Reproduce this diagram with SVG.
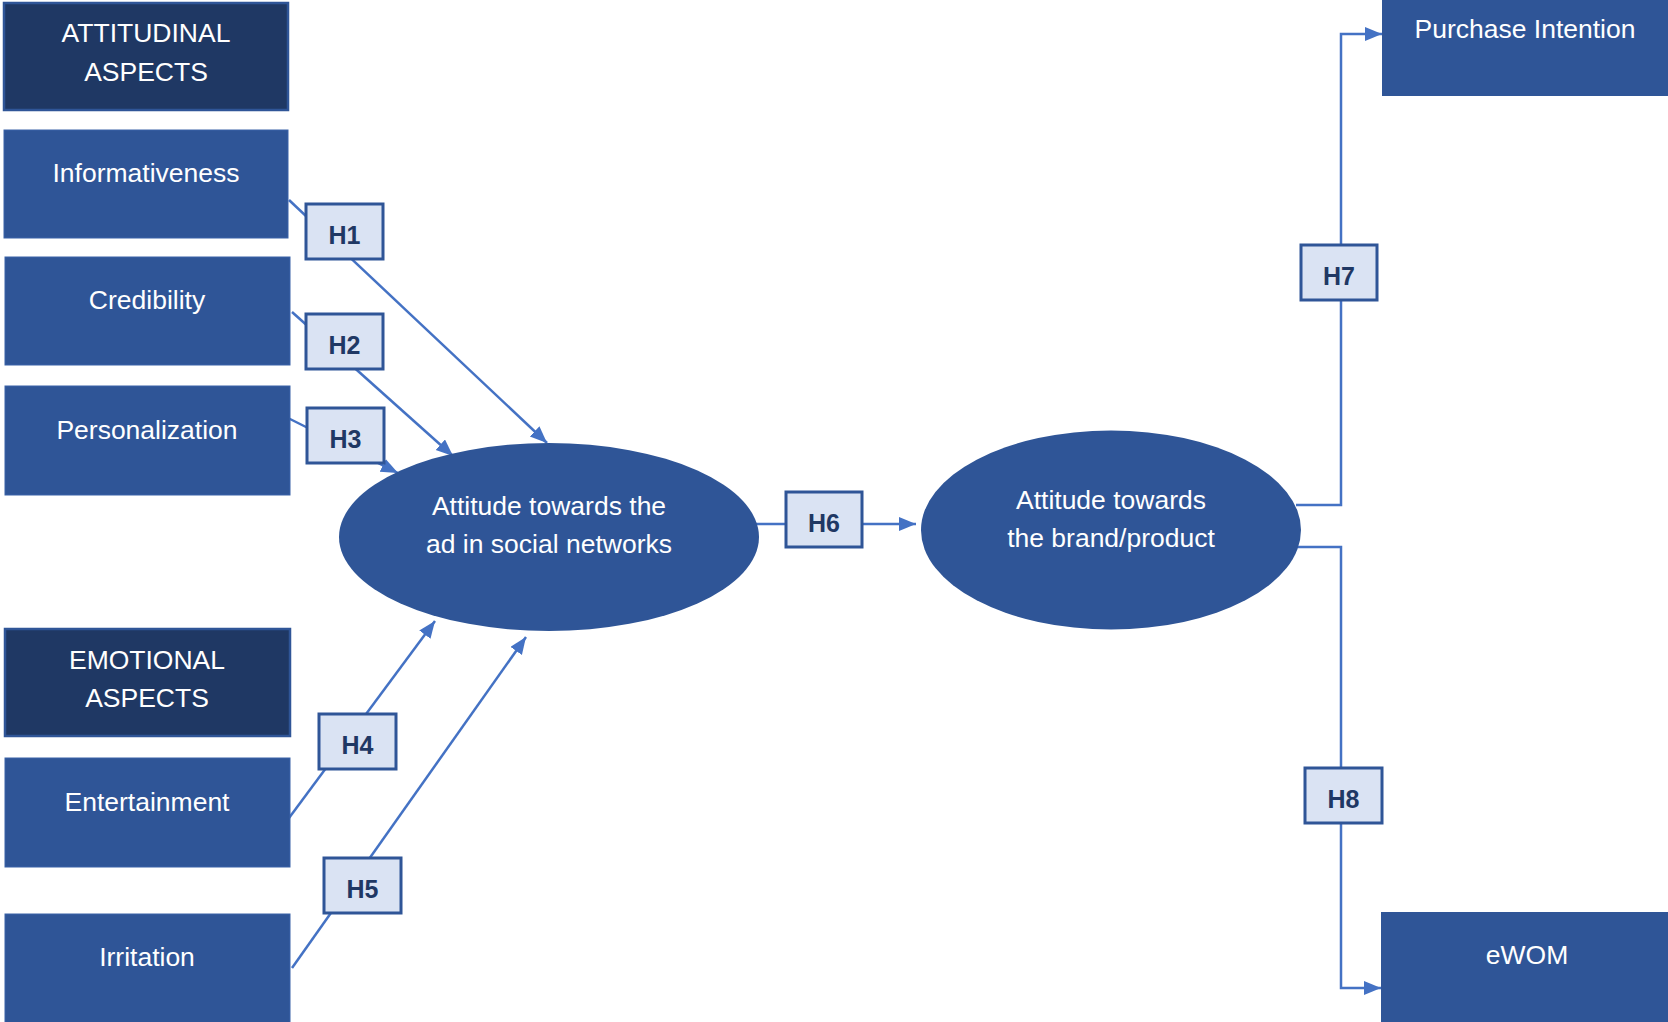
<svg xmlns="http://www.w3.org/2000/svg" width="1668" height="1022" viewBox="0 0 1668 1022">
  <style>
    .box { fill: #2F5597; stroke: #3A63A8; stroke-width: 1; }
    .head { fill: #1F3864; stroke: #2F5597; stroke-width: 2.5; }
    .oval { fill: #2F5597; }
    .txt { font-family: "Liberation Sans", Arial, sans-serif; font-size: 26.5px; fill: #FFFFFF; text-anchor: middle; }
    .hyp rect { fill: #DAE3F3; stroke: #2F5597; stroke-width: 3; }
    .hyp text { font-family: "Liberation Sans", Arial, sans-serif; font-size: 25px; font-weight: bold; fill: #1F3864; text-anchor: middle; }
    .link { fill: none; stroke: #4472C4; stroke-width: 2.5; marker-end: url(#arrow); }
    .plain { fill: none; stroke: #4472C4; stroke-width: 2.5; }
  </style>
  <defs>
    <marker id="arrow" markerUnits="userSpaceOnUse" markerWidth="18" markerHeight="16" refX="17" refY="7" orient="auto">
      <path d="M0,0 L17,7 L0,14 z" fill="#4472C4"/>
    </marker>
  </defs>
  <rect width="1668" height="1022" fill="#FFFFFF"/>

  <!-- connectors -->
  <g id="connectors">
    <line class="link" x1="289" y1="200" x2="547" y2="443"/>
    <line class="link" x1="292" y1="312" x2="453" y2="456"/>
    <line class="link" x1="286" y1="417" x2="398" y2="473"/>
    <line class="link" x1="289" y1="818" x2="435" y2="621"/>
    <line class="link" x1="292" y1="968" x2="526" y2="637"/>
    <line class="link" x1="755" y1="524" x2="916" y2="524"/>
    <polyline class="link" points="1296,505 1341,505 1341,34 1382,34"/>
    <polyline class="link" points="1296,547 1341,547 1341,988 1381,988"/>
  </g>

  <!-- left column -->
  <g id="attitudinal-aspects">
    <rect class="head" x="4" y="3" width="284" height="107"/>
    <text class="txt" x="146" y="42">ATTITUDINAL</text>
    <text class="txt" x="146" y="81">ASPECTS</text>
  </g>
  <g id="informativeness">
    <rect class="box" x="4" y="130" width="284" height="108"/>
    <text class="txt" x="146" y="182">Informativeness</text>
  </g>
  <g id="credibility">
    <rect class="box" x="5" y="257" width="285" height="108"/>
    <text class="txt" x="147" y="309">Credibility</text>
  </g>
  <g id="personalization">
    <rect class="box" x="5" y="386" width="285" height="109"/>
    <text class="txt" x="147" y="439">Personalization</text>
  </g>
  <g id="emotional-aspects">
    <rect class="head" x="5" y="629" width="285" height="107"/>
    <text class="txt" x="147" y="669">EMOTIONAL</text>
    <text class="txt" x="147" y="707">ASPECTS</text>
  </g>
  <g id="entertainment">
    <rect class="box" x="5" y="758" width="285" height="109"/>
    <text class="txt" x="147" y="811">Entertainment</text>
  </g>
  <g id="irritation">
    <rect class="box" x="5" y="914" width="285" height="110"/>
    <text class="txt" x="147" y="966">Irritation</text>
  </g>

  <!-- constructs -->
  <g id="attitude-ad">
    <ellipse class="oval" cx="549" cy="537" rx="210" ry="94"/>
    <text class="txt" x="549" y="515">Attitude towards the</text>
    <text class="txt" x="549" y="553">ad in social networks</text>
  </g>
  <g id="attitude-brand">
    <ellipse class="oval" cx="1111" cy="530" rx="190" ry="99.5"/>
    <text class="txt" x="1111" y="509">Attitude towards</text>
    <text class="txt" x="1111" y="547">the brand/product</text>
  </g>
  <g id="purchase-intention">
    <rect class="oval" x="1382" y="-2" width="288" height="98"/>
    <text class="txt" x="1525" y="38">Purchase Intention</text>
  </g>
  <g id="ewom">
    <rect class="oval" x="1381" y="912" width="289" height="112"/>
    <text class="txt" x="1527" y="964">eWOM</text>
  </g>

  <!-- hypothesis labels -->
  <g id="h1" class="hyp"><rect x="306" y="204" width="77" height="55"/><text x="344.5" y="244">H1</text></g>
  <g id="h2" class="hyp"><rect x="306" y="314" width="77" height="55"/><text x="344.5" y="354">H2</text></g>
  <g id="h3" class="hyp"><rect x="307" y="408" width="77" height="55"/><text x="345.5" y="448">H3</text></g>
  <g id="h4" class="hyp"><rect x="319" y="714" width="77" height="55"/><text x="357.5" y="754">H4</text></g>
  <g id="h5" class="hyp"><rect x="324" y="858" width="77" height="55"/><text x="362.5" y="898">H5</text></g>
  <g id="h6" class="hyp"><rect x="786" y="492" width="76" height="55"/><text x="824" y="532">H6</text></g>
  <g id="h7" class="hyp"><rect x="1301" y="245" width="76" height="55"/><text x="1339" y="285">H7</text></g>
  <g id="h8" class="hyp"><rect x="1305" y="768" width="77" height="55"/><text x="1343.5" y="808">H8</text></g>
</svg>
